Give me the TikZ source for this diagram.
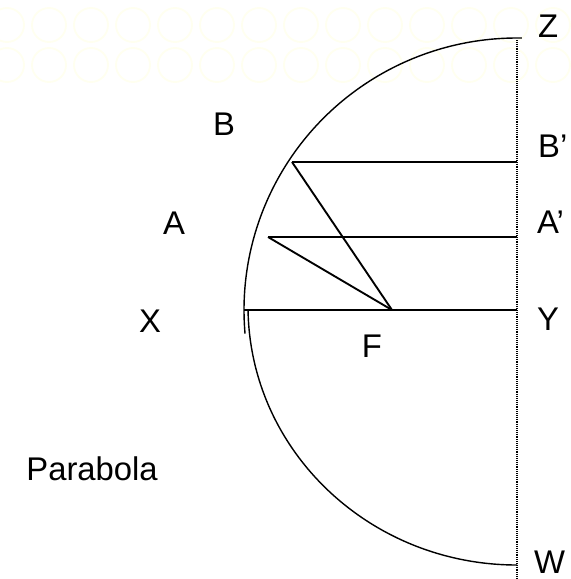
\documentclass[tikz,border=0pt]{standalone}
\usepackage{fontspec}
\setmainfont{Liberation Sans}
\usetikzlibrary{positioning}
\definecolor{ink}{HTML}{000000}
\definecolor{faint}{HTML}{FFFFF0}
\tikzset{
  seg/.style={draw=ink, line width=1.6pt},
  curve/.style={draw=ink, line width=1.2pt},
  axisln/.style={draw=ink, line width=1.1pt, dash pattern=on 0.8pt off 0.8pt},
  lab/.style={font=\fontsize{28pt}{30pt}\selectfont, text=ink, inner sep=0pt},
  ring/.style={draw=faint, line width=1.6pt},
}
\begin{document}
\begin{tikzpicture}[x=0.03cm, y=-0.03cm]
    \useasboundingbox (0,0) rectangle (571,579);
    % faint backdrop
    \foreach \r in {25,65} \foreach \c in {7,49,...,580} \draw[ring] (\c,\r) circle[radius=17];
    % points
    \coordinate (Z) at (517,40);
    \coordinate (W) at (517,579);
    \coordinate (B) at (292,162);
    \coordinate (A) at (268,237);
    \coordinate (X) at (244,310);
    \coordinate (F) at (392,310);
    \coordinate (Bp) at (517,162);
    \coordinate (Ap) at (517,237);
    \coordinate (Y) at (517,310);
    % curves
    \draw[curve] ([shift={(271:273 and 272)}]517,310) arc[start angle=271, end angle=175, x radius=273, y radius=272];
    \draw[curve] ([shift={(179:269 and 259)}]517,306) arc[start angle=179, end angle=90, x radius=269, y radius=259];
    \draw[axisln] (Z) -- (W);
    \foreach \i/\j in {B/Bp,A/Ap,X/Y,B/F,A/F} \draw[seg] (\i) -- (\j);
    % labels
    \node[lab, anchor=base west] (lZ) at (538,37) {Z};
    \node[lab, anchor=base west] (lBp) at (538,157) {B’};
    \node[lab, anchor=base west] (lAp) at (537,233) {A’};
    \node[lab, anchor=base west] (lY) at (537,330) {Y};
    \node[lab, anchor=base west] (lW) at (534,573) {W};
    \node[lab, anchor=base] (lB) at (224,135) {B};
    \node[lab, anchor=base] (lA) at (174,234) {A};
    \node[lab, anchor=base] (lX) at (150,332) {X};
    \node[lab, anchor=base] (lF) at (372,357) {F};
    \node[lab, anchor=base east] (lP) at (158,480) {Parabola};
  \end{tikzpicture}
\end{document}
